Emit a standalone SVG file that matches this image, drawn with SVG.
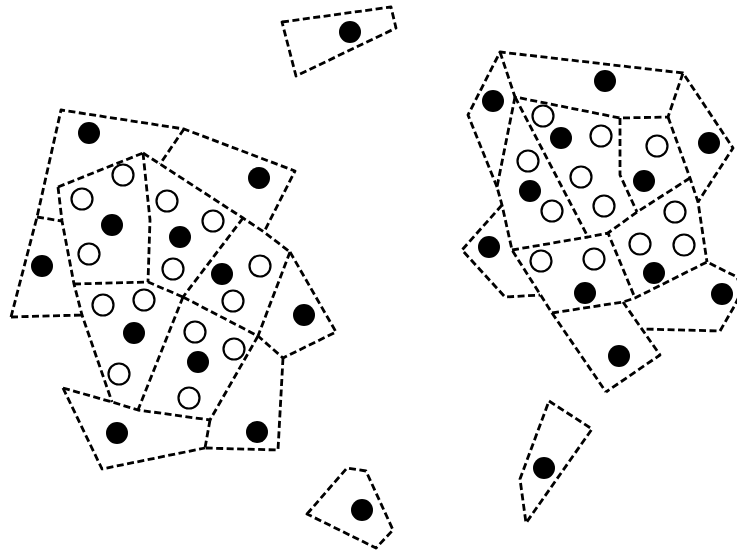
<svg xmlns="http://www.w3.org/2000/svg" width="737" height="551" viewBox="0 0 737 551">
<style>
.e{fill:none;stroke:#000;stroke-width:2.8;stroke-dasharray:7 3.5;stroke-linejoin:round}
.b{fill:#000}
.o{fill:#fff;stroke:#000;stroke-width:2.2}
</style>
<rect width="737" height="551" fill="#fff"/>
<g id="connectors">
<g id="left-cluster-edges">
<path class="e" d="M11,317 L37,217 L61,110 L184,129 L295,171 L264,232"/>
<path class="e" d="M184,129 L160,164"/>
<path class="e" d="M37,217 L62,221"/>
<path class="e" d="M11,317 L82,315"/>
<path class="e" d="M58,187 L62,221 L74,284 L82,315 L112,402"/>
<path class="e" d="M58,187 L143,153"/>
<path class="e" d="M143,153 L160,164 L243,218 L264,232 L290,252"/>
<path class="e" d="M143,153 L150,220 L148,282"/>
<path class="e" d="M74,284 L148,282 L183,297"/>
<path class="e" d="M243,218 L183,297"/>
<path class="e" d="M183,297 L258,336"/>
<path class="e" d="M290,252 L258,336"/>
<path class="e" d="M290,252 L336,332 L283,358 L258,336"/>
<path class="e" d="M258,336 L210,420"/>
<path class="e" d="M183,297 L138,410"/>
<path class="e" d="M63,388 L112,402 L138,410 L210,420"/>
<path class="e" d="M63,388 L102,469 L205,448"/>
<path class="e" d="M210,420 L205,448"/>
<path class="e" d="M283,358 L278,450 L205,448"/>
</g>
<g id="right-cluster-edges">
<path class="e" d="M497,187 L468,115 L500,52 L683,73 L733,148 L698,202"/>
<path class="e" d="M500,52 L515,97 L620,118 L668,117 L683,73"/>
<path class="e" d="M515,97 L497,187 L502,205 L512,250 L552,313 L606,392"/>
<path class="e" d="M515,97 L588,237"/>
<path class="e" d="M620,118 L620,175 L637,212"/>
<path class="e" d="M668,117 L690,178 L698,202 L707,262"/>
<path class="e" d="M690,178 L637,212 L608,233"/>
<path class="e" d="M512,250 L588,237 L608,233 L635,298"/>
<path class="e" d="M552,313 L623,302 L635,298 L707,262 L737,277 L742,290 L735,305 L720,331 L643,329"/>
<path class="e" d="M623,302 L660,355 L606,392"/>
<path class="e" d="M502,205 L462,250 L505,297 L540,295"/>
</g>
</g>
<g id="cell-top"><path class="e" d="M282,22 L391,7 L396,28 L296,76 Z"/><circle class="b" cx="350" cy="32" r="11"/></g>
<g id="cell-bottom"><path class="e" d="M307,514 L347,468 L366,471 L393,530 L376,548 Z"/><circle class="b" cx="362" cy="510" r="11"/></g>
<g id="cell-kite"><path class="e" d="M549,401 L592,429 L526,523 L520,479 Z"/><circle class="b" cx="544" cy="468" r="11"/></g>
<g id="left-dots">
<circle class="b" cx="89" cy="133" r="11"/>
<circle class="b" cx="259" cy="178" r="11"/>
<circle class="b" cx="42" cy="266" r="11"/>
<circle class="b" cx="112" cy="225" r="11"/>
<circle class="b" cx="180" cy="237" r="11"/>
<circle class="b" cx="222" cy="274" r="11"/>
<circle class="b" cx="304" cy="315" r="11"/>
<circle class="b" cx="134" cy="333" r="11"/>
<circle class="b" cx="198" cy="362" r="11"/>
<circle class="b" cx="117" cy="433" r="11"/>
<circle class="b" cx="257" cy="432" r="11"/>
<circle class="o" cx="123" cy="175" r="10.5"/>
<circle class="o" cx="82" cy="199" r="10.5"/>
<circle class="o" cx="89" cy="254" r="10.5"/>
<circle class="o" cx="167" cy="201" r="10.5"/>
<circle class="o" cx="213" cy="221" r="10.5"/>
<circle class="o" cx="173" cy="269" r="10.5"/>
<circle class="o" cx="260" cy="266" r="10.5"/>
<circle class="o" cx="233" cy="301" r="10.5"/>
<circle class="o" cx="103" cy="305" r="10.5"/>
<circle class="o" cx="144" cy="300" r="10.5"/>
<circle class="o" cx="195" cy="332" r="10.5"/>
<circle class="o" cx="234" cy="349" r="10.5"/>
<circle class="o" cx="119" cy="374" r="10.5"/>
<circle class="o" cx="189" cy="398" r="10.5"/>
</g>
<g id="right-dots">
<circle class="b" cx="493" cy="101" r="11"/>
<circle class="b" cx="605" cy="81" r="11"/>
<circle class="b" cx="709" cy="143" r="11"/>
<circle class="b" cx="561" cy="138" r="11"/>
<circle class="b" cx="530" cy="191" r="11"/>
<circle class="b" cx="644" cy="181" r="11"/>
<circle class="b" cx="489" cy="247" r="11"/>
<circle class="b" cx="654" cy="273" r="11"/>
<circle class="b" cx="585" cy="293" r="11"/>
<circle class="b" cx="722" cy="294" r="11"/>
<circle class="b" cx="619" cy="356" r="11"/>
<circle class="o" cx="543" cy="116" r="10.5"/>
<circle class="o" cx="601" cy="136" r="10.5"/>
<circle class="o" cx="528" cy="161" r="10.5"/>
<circle class="o" cx="581" cy="177" r="10.5"/>
<circle class="o" cx="552" cy="211" r="10.5"/>
<circle class="o" cx="604" cy="206" r="10.5"/>
<circle class="o" cx="657" cy="146" r="10.5"/>
<circle class="o" cx="675" cy="212" r="10.5"/>
<circle class="o" cx="640" cy="244" r="10.5"/>
<circle class="o" cx="684" cy="245" r="10.5"/>
<circle class="o" cx="541" cy="261" r="10.5"/>
<circle class="o" cx="594" cy="259" r="10.5"/>
</g>
</svg>
